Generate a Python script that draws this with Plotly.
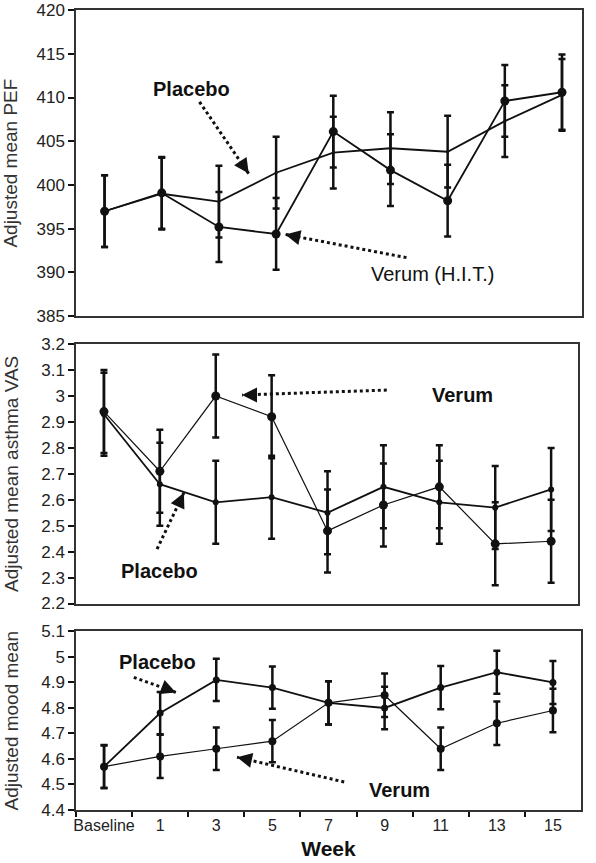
import plotly.graph_objects as go

# ---------------- data ----------------
weeks = ["Baseline", "1", "3", "5", "7", "9", "11", "13", "15"]

pef_placebo = [397.0, 399.0, 398.1, 401.4, 403.7, 404.2, 403.8, 407.3, 410.3]
pef_placebo_err = [4.1, 4.1, 4.1, 4.1, 4.1, 4.1, 4.1, 4.1, 4.1]
pef_verum = [397.0, 399.1, 395.2, 394.4, 406.1, 401.7, 398.2, 409.6, 410.6]
pef_verum_err = [4.1, 4.1, 4.0, 4.1, 4.1, 4.1, 4.1, 4.1, 4.3]

vas_placebo = [2.93, 2.66, 2.59, 2.61, 2.55, 2.65, 2.59, 2.57, 2.64]
vas_placebo_err = [0.16, 0.16, 0.16, 0.16, 0.16, 0.16, 0.16, 0.16, 0.16]
vas_verum = [2.94, 2.71, 3.00, 2.92, 2.48, 2.58, 2.65, 2.43, 2.44]
vas_verum_err = [0.16, 0.16, 0.16, 0.16, 0.16, 0.16, 0.16, 0.16, 0.16]

mood_placebo = [4.57, 4.78, 4.91, 4.88, 4.82, 4.80, 4.88, 4.94, 4.90]
mood_placebo_err = [0.083, 0.083, 0.083, 0.083, 0.085, 0.083, 0.085, 0.084, 0.084]
mood_verum = [4.57, 4.61, 4.64, 4.67, 4.82, 4.85, 4.64, 4.74, 4.79]
mood_verum_err = [0.085, 0.085, 0.083, 0.083, 0.085, 0.085, 0.083, 0.085, 0.085]

FONT = "Liberation Sans, Arial, sans-serif"
BLACK = "#111111"

fig = go.Figure()


def add_series(y, err, xa, ya, msize, lw):
    fig.add_trace(go.Scatter(
        x=weeks, y=y, xaxis=xa, yaxis=ya, mode="lines+markers",
        line=dict(color=BLACK, width=lw),
        marker=dict(color=BLACK, size=msize, symbol="circle"),
        error_y=dict(type="data", array=err, visible=True, color=BLACK,
                     thickness=2.5, width=3.5),
        showlegend=False, cliponaxis=False,
    ))


# panel 1
add_series(pef_placebo, pef_placebo_err, "x", "y", 3, 1.8)
add_series(pef_verum, pef_verum_err, "x", "y", 9, 1.8)
# panel 2
add_series(vas_placebo, vas_placebo_err, "x2", "y2", 6, 1.8)
add_series(vas_verum, vas_verum_err, "x2", "y2", 9, 1.2)
# panel 3
add_series(mood_placebo, mood_placebo_err, "x3", "y3", 7, 1.8)
add_series(mood_verum, mood_verum_err, "x3", "y3", 8, 1.2)

ylab_font = dict(family=FONT, size=19, color="#333333")
tick_font = dict(family=FONT, size=17, color="#222222")

frame = dict(showline=True, linecolor="#333333", linewidth=1.5, mirror=True,
             showgrid=False, zeroline=False)

x_hidden = dict(type="category", categoryorder="array", categoryarray=weeks,
                showticklabels=False, ticks="", **frame)

ytick = dict(ticks="outside", ticklen=6, tickwidth=1.5, tickcolor=BLACK,
             tickfont=tick_font, automargin=False)

fig.update_layout(
    width=596, height=863,
    margin=dict(l=76, r=14, t=8, b=53),
    paper_bgcolor="white", plot_bgcolor="white",
    font=dict(family=FONT, color=BLACK),
    xaxis=dict(domain=[0, 1.0], range=[-0.5, 8.35], anchor="y", **x_hidden),
    xaxis2=dict(domain=[0, 0.992], range=[-0.5, 8.48], anchor="y2", **x_hidden),
    xaxis3=dict(domain=[0, 0.998], range=[-0.5, 8.5], anchor="y3",
                type="category", categoryorder="array", categoryarray=weeks,
                ticks="outside", tickson="boundaries", ticklen=5,
                tickcolor=BLACK, tickwidth=1.5, tickangle=0,
                tickfont=dict(family=FONT, size=16, color="#222222"),
                automargin=False,
                title=dict(text="<b>Week</b>", font=dict(family=FONT, size=21, color=BLACK),
                           standoff=8),
                **frame),
    yaxis=dict(domain=[0.6172, 1.0], range=[385, 420], tick0=385, dtick=5,
               anchor="x",
               title=dict(text="Adjusted mean PEF", font=ylab_font, standoff=18),
               **ytick, **frame),
    yaxis2=dict(domain=[0.2581, 0.5823], range=[2.2, 3.2], tick0=2.2, dtick=0.1,
                anchor="x2",
                title=dict(text="Adjusted mean asthma VAS", font=ylab_font, standoff=18),
                **ytick, **frame),
    yaxis3=dict(domain=[0, 0.2232], range=[4.4, 5.1], tick0=4.4, dtick=0.1,
                anchor="x3",
                title=dict(text="Adjusted mood mean", font=ylab_font, standoff=18),
                **ytick, **frame),
)

ann_font_b = dict(family=FONT, size=20, color=BLACK)

texts = [
    # (text, x, y, xref, yref)
    ("<b>Placebo</b>", 1.52, 411.0, "x", "y"),
    ("Verum (H.I.T.)", 5.73, 389.8, "x", "y"),
    ("<b>Verum</b>", 6.42, 3.004, "x2", "y2"),
    ("<b>Placebo</b>", 1.0, 2.327, "x2", "y2"),
    ("<b>Placebo</b>", 0.945, 4.979, "x3", "y3"),
    ("<b>Verum</b>", 5.26, 4.478, "x3", "y3"),
]
for t, x, y, xr, yr in texts:
    fig.add_annotation(text=t, x=x, y=y, xref=xr, yref=yr, showarrow=False,
                       font=ann_font_b, xanchor="center", yanchor="middle")

# dotted arrows: (tail x, tail y, tip x, tip y, head ax, head ay, xref, yref)
arrows = [
    (1.66, 409.5, 2.52, 401.3, -8, -12, "x", "y"),
    (5.28, 391.7, 3.16, 394.35, 14, 3, "x", "y"),
    (5.06, 3.023, 2.47, 3.004, 14, 0, "x2", "y2"),
    (0.95, 2.41, 1.43, 2.627, -6, 13, "x2", "y2"),
    (0.53, 4.92, 1.28, 4.861, -13, -5, "x3", "y3"),
    (4.28, 4.51, 2.37, 4.607, 14, 3, "x3", "y3"),
]
for x0, y0, x1, y1, ax, ay, xr, yr in arrows:
    fig.add_shape(type="line", x0=x0, y0=y0, x1=x1, y1=y1, xref=xr, yref=yr,
                  line=dict(color=BLACK, width=3, dash="dot"))
    fig.add_annotation(text="", x=x1, y=y1, xref=xr, yref=yr, ax=ax, ay=ay,
                       showarrow=True, arrowhead=2, arrowsize=1.5,
                       arrowwidth=2, arrowcolor=BLACK, standoff=0)

fig.write_html("out.html",
               config={"displayModeBar": False},
               post_script="document.body.style.margin='0';"
                           "document.body.style.overflow='hidden';")
